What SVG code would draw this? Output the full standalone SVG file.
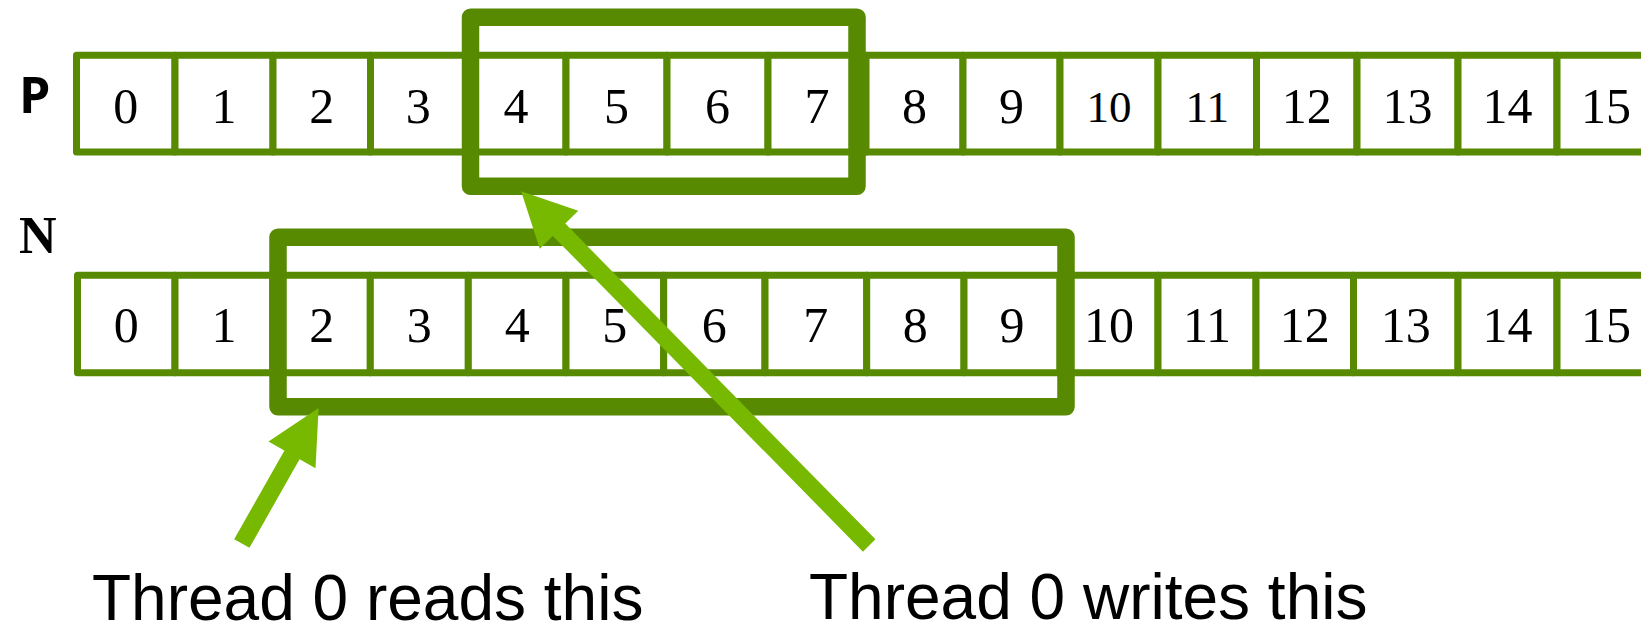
<svg xmlns="http://www.w3.org/2000/svg" width="1641" height="625" viewBox="0 0 1641 625">
<style>
.cell{fill:#fff;stroke:#578A00;stroke-width:7;stroke-linejoin:round}
.num{font-family:"Liberation Serif","Times New Roman",serif;font-size:50px;text-anchor:middle;fill:#000}
.sm{font-size:45px}
.hl{fill:none;stroke:#578A00;stroke-width:17.5;stroke-linejoin:round}
.arr{stroke:#76B900;stroke-width:17.5;stroke-linecap:butt;marker-end:url(#ah)}
.lbl{font-family:"Liberation Sans",Arial,sans-serif;font-size:64px;fill:#000}
</style>
<defs>
<marker id="ah" markerUnits="userSpaceOnUse" viewBox="-2 -30 60 60" markerWidth="60" markerHeight="60" refX="0" refY="0" orient="auto">
<path d="M-1,-27 L53,0 L-1,27 Z" fill="#76B900"/>
</marker>
</defs>
<rect width="1641" height="625" fill="#fff"/>
<g id="labels">
<text x="19" y="113" style="font-family:'Open Sans','Liberation Sans',sans-serif;font-weight:700;font-size:50px">P</text>
<text x="19" y="253" style="font-family:'Liberation Serif','Times New Roman',serif;font-weight:700;font-size:52px">N</text>
</g>
<g id="P-row">
<g id="P0"><rect class="cell" x="76.5" y="55.3" width="98.5" height="96.7"/><text class="num" x="125.75" y="123.3">0</text></g>
<g id="P1"><rect class="cell" x="175" y="55.3" width="98" height="96.7"/><text class="num" x="224" y="123.3">1</text></g>
<g id="P2"><rect class="cell" x="273" y="55.3" width="97.5" height="96.7"/><text class="num" x="321.75" y="123.3">2</text></g>
<g id="P3"><rect class="cell" x="370.5" y="55.3" width="95.5" height="96.7"/><text class="num" x="418.25" y="123.3">3</text></g>
<g id="P4"><rect class="cell" x="466" y="55.3" width="100" height="96.7"/><text class="num" x="516" y="123.3">4</text></g>
<g id="P5"><rect class="cell" x="566" y="55.3" width="101" height="96.7"/><text class="num" x="616.5" y="123.3">5</text></g>
<g id="P6"><rect class="cell" x="667" y="55.3" width="101" height="96.7"/><text class="num" x="717.5" y="123.3">6</text></g>
<g id="P7"><rect class="cell" x="768" y="55.3" width="98" height="96.7"/><text class="num" x="817" y="123.3">7</text></g>
<g id="P8"><rect class="cell" x="866" y="55.3" width="97" height="96.7"/><text class="num" x="914.5" y="123.3">8</text></g>
<g id="P9"><rect class="cell" x="963" y="55.3" width="97" height="96.7"/><text class="num" x="1011.5" y="123.3">9</text></g>
<g id="P10"><rect class="cell" x="1060" y="55.3" width="98" height="96.7"/><text class="num sm" x="1109" y="122.3">10</text></g>
<g id="P11"><rect class="cell" x="1158" y="55.3" width="98.5" height="96.7"/><text class="num sm" x="1207.25" y="122.3">11</text></g>
<g id="P12"><rect class="cell" x="1256.5" y="55.3" width="100.5" height="96.7"/><text class="num" x="1306.75" y="123.3">12</text></g>
<g id="P13"><rect class="cell" x="1357" y="55.3" width="101" height="96.7"/><text class="num" x="1407.5" y="123.3">13</text></g>
<g id="P14"><rect class="cell" x="1458" y="55.3" width="99" height="96.7"/><text class="num" x="1507.5" y="123.3">14</text></g>
<g id="P15"><rect class="cell" x="1557" y="55.3" width="98" height="96.7"/><text class="num" x="1606" y="123.3">15</text></g>
</g>
<g id="N-row">
<g id="N0"><rect class="cell" x="77.5" y="275.3" width="97.5" height="97.4"/><text class="num" x="126.25" y="341.5">0</text></g>
<g id="N1"><rect class="cell" x="175" y="275.3" width="98" height="97.4"/><text class="num" x="224" y="341.5">1</text></g>
<g id="N2"><rect class="cell" x="273" y="275.3" width="97.3" height="97.4"/><text class="num" x="321.65" y="341.5">2</text></g>
<g id="N3"><rect class="cell" x="370.3" y="275.3" width="98" height="97.4"/><text class="num" x="419.3" y="341.5">3</text></g>
<g id="N4"><rect class="cell" x="468.3" y="275.3" width="97.7" height="97.4"/><text class="num" x="517.15" y="341.5">4</text></g>
<g id="N5"><rect class="cell" x="566" y="275.3" width="97.7" height="97.4"/><text class="num" x="614.85" y="341.5">5</text></g>
<g id="N6"><rect class="cell" x="663.7" y="275.3" width="101.3" height="97.4"/><text class="num" x="714.35" y="341.5">6</text></g>
<g id="N7"><rect class="cell" x="765" y="275.3" width="101.7" height="97.4"/><text class="num" x="815.85" y="341.5">7</text></g>
<g id="N8"><rect class="cell" x="866.7" y="275.3" width="97.3" height="97.4"/><text class="num" x="915.35" y="341.5">8</text></g>
<g id="N9"><rect class="cell" x="964" y="275.3" width="96" height="97.4"/><text class="num" x="1012" y="341.5">9</text></g>
<g id="N10"><rect class="cell" x="1060" y="275.3" width="98" height="97.4"/><text class="num" x="1109" y="341.5">10</text></g>
<g id="N11"><rect class="cell" x="1158" y="275.3" width="98" height="97.4"/><text class="num" x="1207" y="341.5">11</text></g>
<g id="N12"><rect class="cell" x="1256" y="275.3" width="97.5" height="97.4"/><text class="num" x="1304.75" y="341.5">12</text></g>
<g id="N13"><rect class="cell" x="1353.5" y="275.3" width="104.5" height="97.4"/><text class="num" x="1405.75" y="341.5">13</text></g>
<g id="N14"><rect class="cell" x="1458" y="275.3" width="99" height="97.4"/><text class="num" x="1507.5" y="341.5">14</text></g>
<g id="N15"><rect class="cell" x="1557" y="275.3" width="98" height="97.4"/><text class="num" x="1606" y="341.5">15</text></g>
</g>
<g id="write-box"><rect class="hl" x="470.5" y="17.2" width="386.5" height="169.1"/></g>
<g id="read-box"><rect class="hl" x="278" y="237.2" width="788" height="169.5"/></g>
<g id="connectors">
<line class="arr" x1="241.8" y1="543.5" x2="292.5" y2="454"/>
<line class="arr" x1="869.2" y1="545.5" x2="558.3" y2="229"/>
</g>
<g id="captions">
<text class="lbl" x="92" y="620">Thread 0 reads this</text>
<text class="lbl" x="809" y="619">Thread 0 writes this</text>
</g>
</svg>
